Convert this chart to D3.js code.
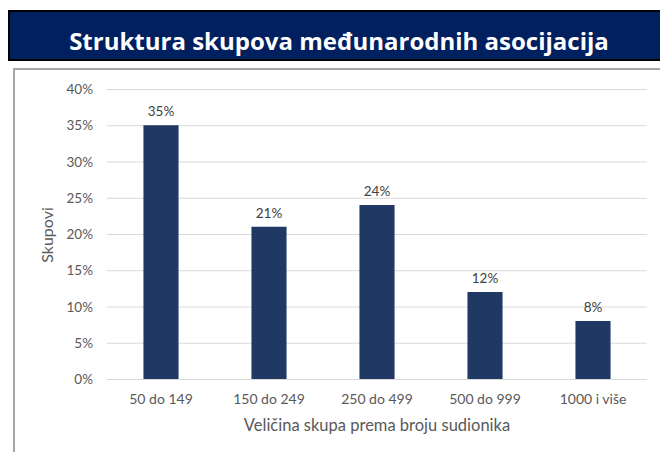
<!DOCTYPE html>
<html>
<head>
<meta charset="utf-8">
<script src="https://cdn.jsdelivr.net/npm/d3@7"></script>
<style>
  body { margin: 0; background: #fff; }
  svg text { font-family: Lato, "Open Sans", sans-serif; }
</style>
</head>
<body>
<div id="chart"></div>
<script>
const categories = ['50 do 149', '150 do 249', '250 do 499', '500 do 999', '1000 i više'];
const shares = [35, 21, 24, 12, 8];
const yTicks = [0, 5, 10, 15, 20, 25, 30, 35, 40];

const title = 'Struktura skupova međunarodnih asocijacija';
const xTitle = 'Veličina skupa prema broju sudionika';
const yTitle = 'Skupovi';

const w = 660;
const h = 452;
const plot = { left: 107, right: 647, top: 89, bottom: 379 };

const svg = d3.select('#chart')
  .append('svg')
  .attr('width', w)
  .attr('height', h);

// title banner
svg.append('rect')
  .attr('x', 9)
  .attr('y', 11)
  .attr('width', w)
  .attr('height', 49)
  .attr('fill', '#002060')
  .attr('stroke', '#000')
  .attr('stroke-width', 2);

svg.append('text')
  .text(title)
  .attr('x', 339)
  .attr('y', 50)
  .attr('text-anchor', 'middle')
  .attr('fill', 'white')
  .attr('font-size', 24)
  .attr('font-weight', 'bold')
  .style('font-family', '"Open Sans", sans-serif');

// chart panel border
svg.append('path')
  .attr('d', `M14,${h} V69 H${w}`)
  .attr('fill', 'none')
  .attr('stroke', '#a6a6a6')
  .attr('stroke-width', 2);

const xScale = d3.scaleBand()
  .domain(categories)
  .range([plot.left, plot.right])
  .paddingInner(0.675)
  .paddingOuter(0.3375);

const yScale = d3.scaleLinear()
  .domain([0, 40])
  .range([plot.bottom, plot.top]);

// gridlines
svg.append('g')
  .selectAll('line')
  .data(yTicks)
  .enter()
  .append('line')
  .attr('x1', plot.left)
  .attr('x2', plot.right)
  .attr('y1', d => yScale(d) + 0.5)
  .attr('y2', d => yScale(d) + 0.5)
  .attr('stroke', '#d9d9d9')
  .attr('stroke-width', 1);

// y axis labels
const yAxis = d3.axisLeft(yScale)
  .tickValues(yTicks)
  .tickFormat(d => d + '%')
  .tickSize(0)
  .tickPadding(0);

svg.append('g')
  .attr('transform', `translate(93,0)`)
  .call(yAxis)
  .call(g => g.select('.domain').remove())
  .selectAll('text')
  .attr('font-size', 13.5)
  .attr('fill', '#595959')
  .attr('dy', '0.35em');

// bars
svg.selectAll('rect.bar')
  .data(shares)
  .enter()
  .append('rect')
  .attr('class', 'bar')
  .attr('x', (d, i) => xScale(categories[i]))
  .attr('y', d => yScale(d))
  .attr('width', xScale.bandwidth())
  .attr('height', d => plot.bottom - yScale(d))
  .attr('fill', '#203864');

// data labels
svg.selectAll('text.value')
  .data(shares)
  .enter()
  .append('text')
  .attr('class', 'value')
  .text(d => d + '%')
  .attr('x', (d, i) => xScale(categories[i]) + xScale.bandwidth() / 2)
  .attr('y', d => yScale(d) - 9)
  .attr('text-anchor', 'middle')
  .attr('font-size', 13.5)
  .attr('fill', '#404040');

// x axis labels
const xAxis = d3.axisBottom(xScale)
  .tickSize(0)
  .tickPadding(0);

svg.append('g')
  .attr('transform', `translate(0,${plot.bottom})`)
  .call(xAxis)
  .call(g => g.select('.domain').remove())
  .selectAll('text')
  .attr('y', 25)
  .attr('dy', 0)
  .attr('font-size', 14)
  .attr('fill', '#595959');

// axis titles
svg.append('text')
  .text(xTitle)
  .attr('x', 377)
  .attr('y', 431)
  .attr('text-anchor', 'middle')
  .attr('font-size', 16.5)
  .attr('fill', '#595959');

svg.append('text')
  .text(yTitle)
  .attr('transform', 'translate(53,235) rotate(-90)')
  .attr('text-anchor', 'middle')
  .attr('font-size', 16)
  .attr('fill', '#595959');
</script>
</body>
</html>
